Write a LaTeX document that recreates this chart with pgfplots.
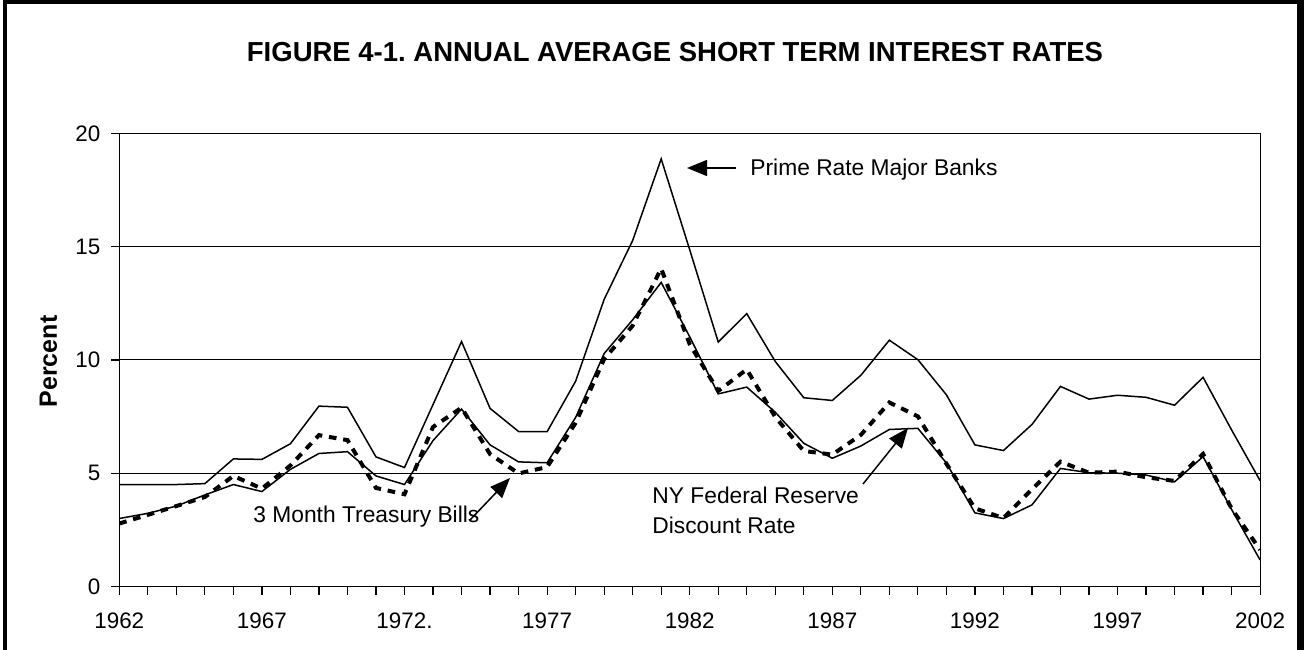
\documentclass[border=0pt]{standalone}
\usepackage{pgfplots}
\pgfplotsset{compat=1.18}
\usepackage{fontspec}
\setmainfont{Liberation Sans}
\usetikzlibrary{arrows.meta}
\frenchspacing
\begin{document}
\begin{tikzpicture}
\useasboundingbox (-59.65pt,-31.25pt) rectangle (592.85pt,293.25pt);
\begin{axis}[
  at={(0,0)}, anchor=south west,
  scale only axis, width=570.4pt, height=226.6pt,
  xmin=1962, xmax=2002, ymin=0, ymax=20,
  ytick={0,5,10,15,20},
  xtick={1962,1967,1972,1977,1982,1987,1992,1997,2002},
  xticklabels={1962,1967,1972.,1977,1982,1987,1992,1997,2002},
  minor xtick={1962,1963,...,2002},
  major tick length=4pt, minor tick length=4pt,
  tick align=outside,
  xtick pos=bottom, ytick pos=left,
  tick style={black, line width=0.6pt},
  ymajorgrids, grid style={black, line width=0.5pt},
  axis line style={black, line width=0.5pt},
  ticklabel style={font=\fontsize{11.2}{13.4}\selectfont},
  xticklabel style={yshift=-5.5pt},
  yticklabel style={xshift=-2pt},
  /pgf/number format/assume math mode=true,
  clip=true,
]
\addplot[black, line width=0.75pt] table {
1962 4.50
1963 4.50
1964 4.50
1965 4.54
1966 5.63
1967 5.61
1968 6.30
1969 7.96
1970 7.91
1971 5.72
1972 5.25
1973 8.03
1974 10.81
1975 7.86
1976 6.84
1977 6.83
1978 9.06
1979 12.67
1980 15.27
1981 18.87
1982 14.86
1983 10.79
1984 12.04
1985 9.93
1986 8.33
1987 8.21
1988 9.32
1989 10.87
1990 10.01
1991 8.46
1992 6.25
1993 6.00
1994 7.15
1995 8.83
1996 8.27
1997 8.44
1998 8.35
1999 8.00
2000 9.23
2001 6.91
2002 4.67
};
\addplot[black, line width=0.75pt] table {
1962 3.00
1963 3.23
1964 3.55
1965 4.04
1966 4.50
1967 4.19
1968 5.17
1969 5.87
1970 5.95
1971 4.88
1972 4.50
1973 6.44
1974 7.83
1975 6.25
1976 5.50
1977 5.46
1978 7.46
1979 10.28
1980 11.77
1981 13.42
1982 11.02
1983 8.50
1984 8.80
1985 7.69
1986 6.32
1987 5.66
1988 6.20
1989 6.93
1990 6.98
1991 5.45
1992 3.25
1993 3.00
1994 3.60
1995 5.21
1996 5.02
1997 5.00
1998 4.92
1999 4.62
2000 5.73
2001 3.40
2002 1.17
};
\addplot[black, line width=2pt, dash pattern=on 3.8pt off 3.4pt] table {
1962 2.78
1963 3.16
1964 3.55
1965 3.95
1966 4.88
1967 4.32
1968 5.34
1969 6.68
1970 6.46
1971 4.35
1972 4.07
1973 7.04
1974 7.89
1975 5.84
1976 4.99
1977 5.27
1978 7.22
1979 10.04
1980 11.51
1981 14.03
1982 10.69
1983 8.63
1984 9.58
1985 7.48
1986 5.98
1987 5.82
1988 6.69
1989 8.12
1990 7.51
1991 5.42
1992 3.45
1993 3.02
1994 4.29
1995 5.51
1996 5.02
1997 5.07
1998 4.82
1999 4.66
2000 5.85
2001 3.44
2002 1.62
};
\draw[black, line width=1pt] (rel axis cs:0,1) -- (rel axis cs:0,0) -- (rel axis cs:1,0);
\end{axis}
% outer frame
\draw[black, line width=2pt] (-57.15pt,-40pt) -- (-57.15pt,292.25pt) -- (590.6pt,292.25pt);
\draw[black, line width=3.5pt] (590.6pt,293.25pt) -- (590.6pt,-40pt);
% title
\node[font=\fontsize{13.75}{16}\selectfont\bfseries, anchor=base] at (277.85pt,262.4pt) {FIGURE 4-1. ANNUAL AVERAGE SHORT TERM INTEREST RATES};
% y label
\node[font=\fontsize{12.5}{14}\selectfont\bfseries, rotate=90] at (-35.5pt,112.5pt) {Percent};
% annotations
\node[font=\fontsize{11.4}{13.4}\selectfont, anchor=base west, inner sep=0pt] at (315.35pt,205.25pt) {Prime Rate Major Banks};
\draw[black, line width=0.75pt, -{Triangle[length=10pt,width=8pt]}] (308.35pt,209.25pt) -- (283.85pt,209.25pt);
\node[font=\fontsize{11.4}{13.4}\selectfont, anchor=base west, inner sep=0pt] at (66.85pt,32.25pt) {3 Month Treasury Bills};
\draw[black, line width=0.75pt, -{Triangle[length=10pt,width=8pt]}] (175.35pt,33.25pt) -- (195.35pt,54.25pt);
\node[font=\fontsize{11.4}{13.4}\selectfont, anchor=base west, inner sep=0pt] at (266.35pt,41.75pt) {NY Federal Reserve};
\node[font=\fontsize{11.4}{13.4}\selectfont, anchor=base west, inner sep=0pt] at (266.35pt,26.75pt) {Discount Rate};
\draw[black, line width=0.75pt, -{Triangle[length=10pt,width=8pt]}] (371.85pt,51.25pt) -- (394.35pt,79.25pt);
\end{tikzpicture}
\end{document}
